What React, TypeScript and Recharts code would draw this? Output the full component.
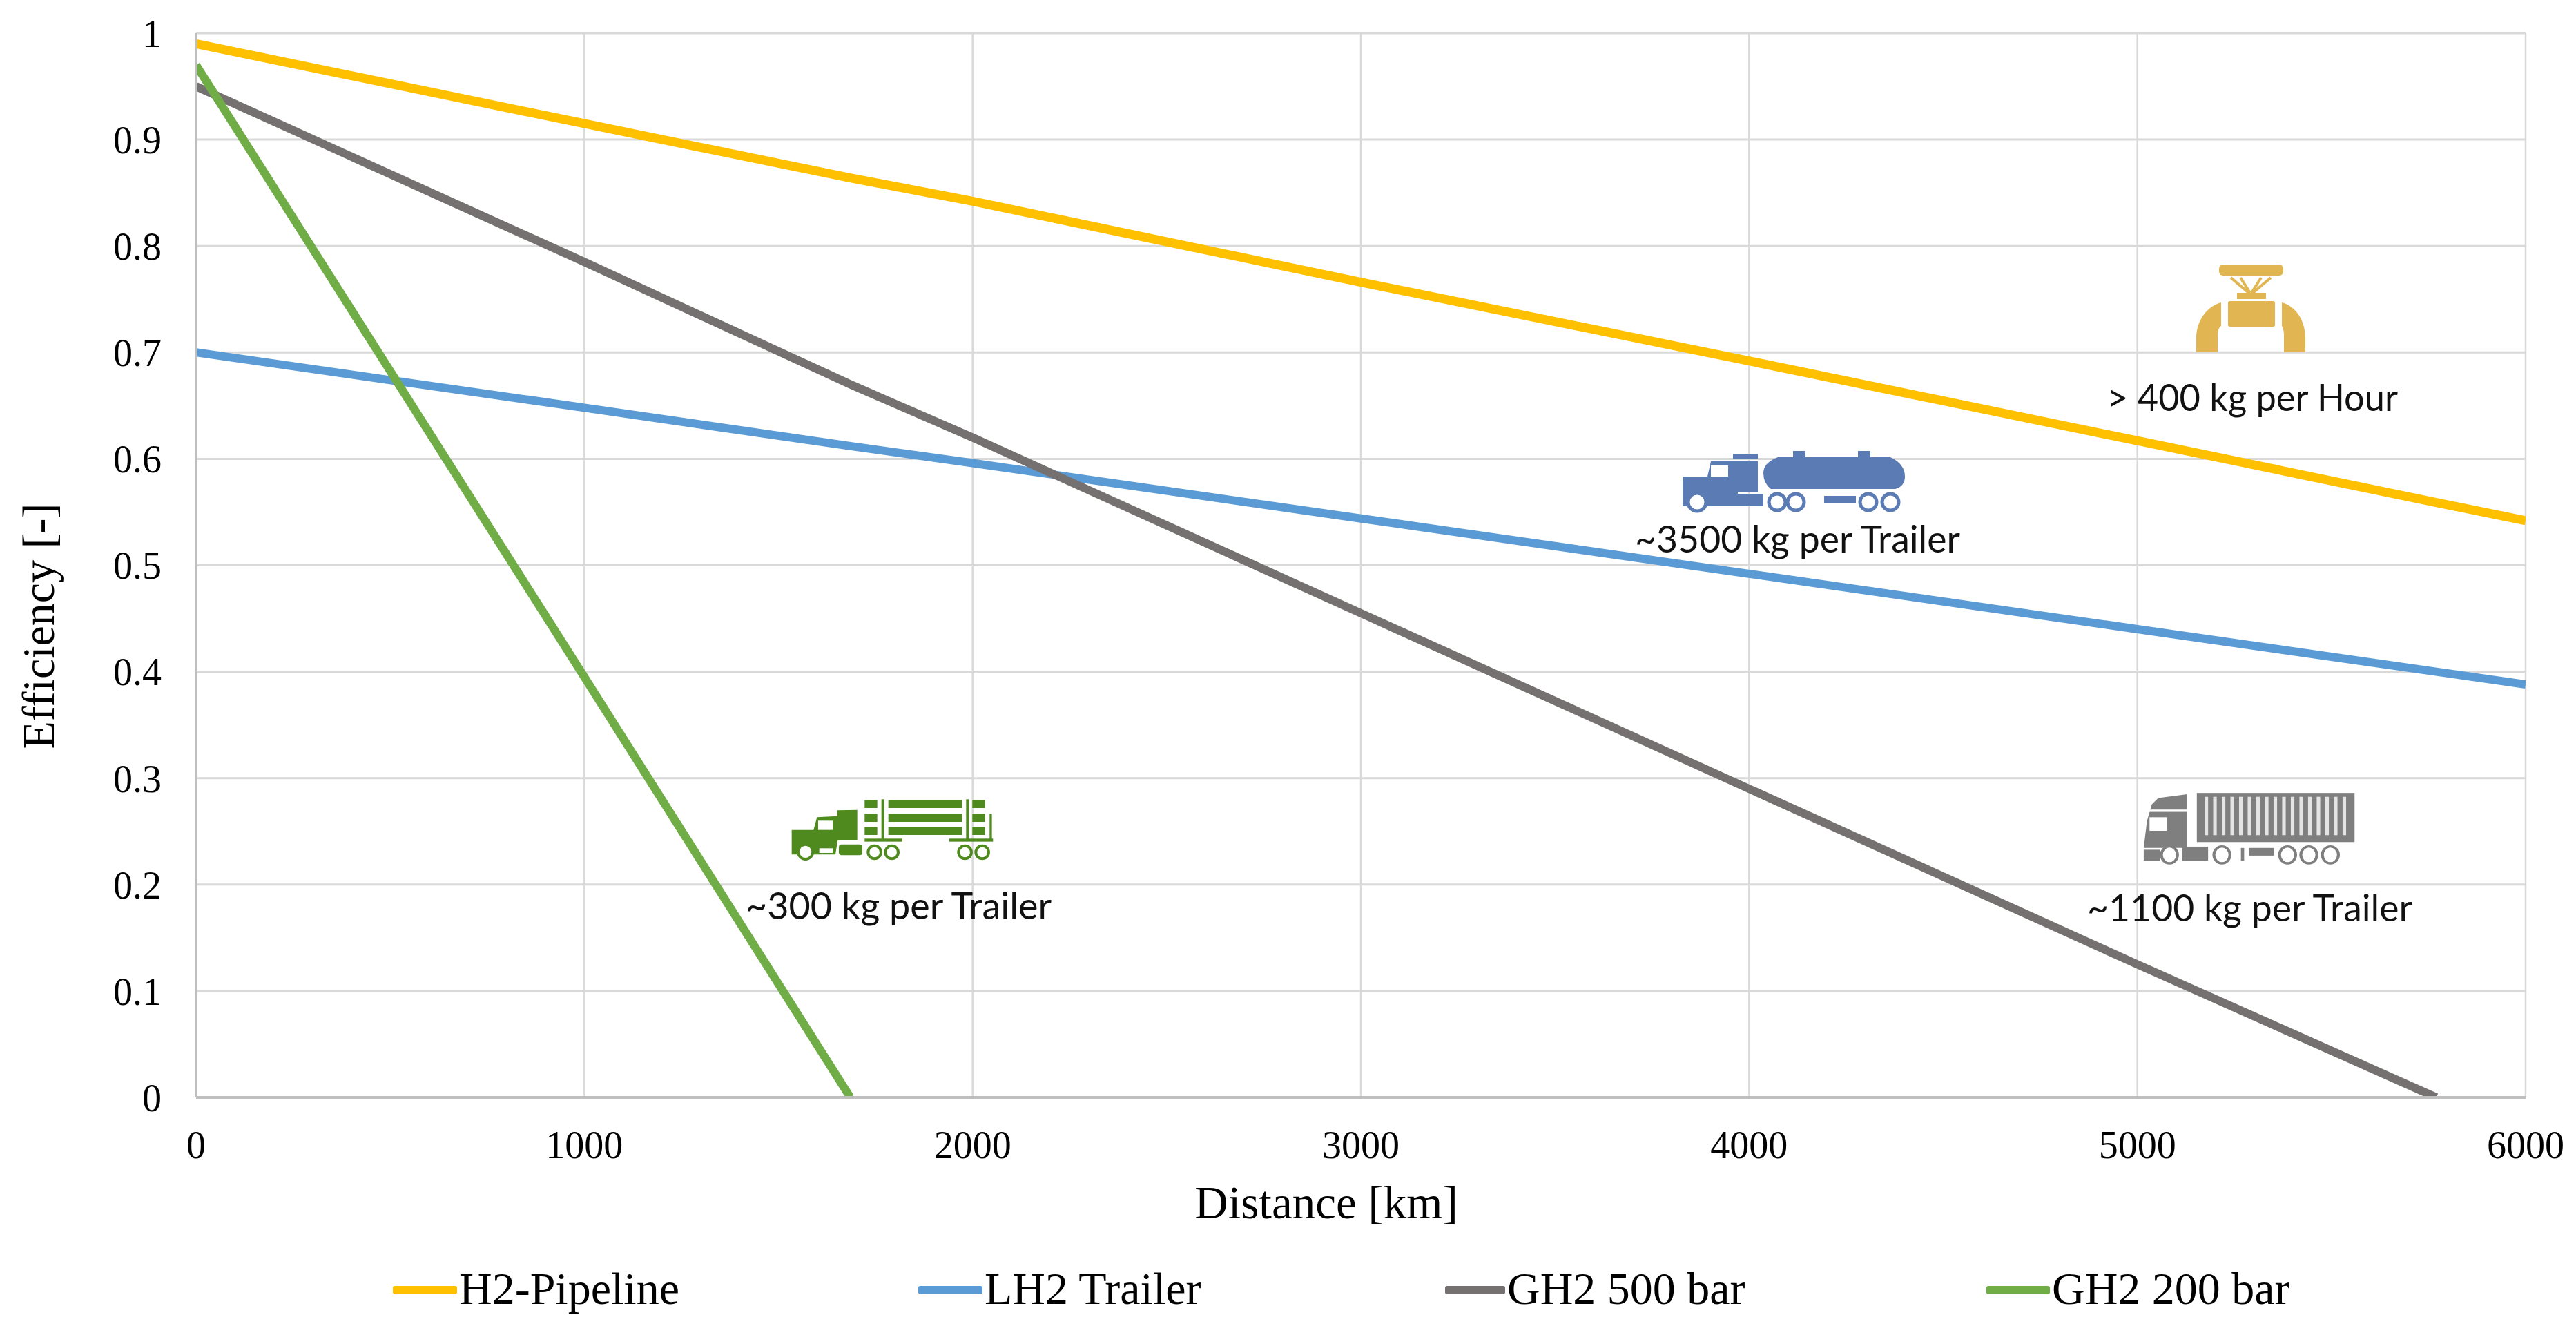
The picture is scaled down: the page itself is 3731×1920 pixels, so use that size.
import { CartesianGrid, Legend, Line, LineChart, XAxis, YAxis } from "recharts";

const WIDTH = 3731;
const HEIGHT = 1920;
const SERIF = '"Liberation Serif", "Times New Roman", serif';
const LABEL_FONT = 'Lato, "Open Sans", sans-serif';

const DISTANCES = [0, 1000, 1685, 2000, 3000, 4000, 5000, 5770, 6000];
const H2_PIPELINE = [0.99, 0.915, 0.864, 0.842, 0.766, 0.692, 0.617, 0.559, 0.542];
const LH2_TRAILER = [0.7, 0.648, 0.612, 0.596, 0.544, 0.492, 0.44, 0.4, 0.388];
const GH2_500 = [0.95, 0.785, 0.67, 0.62, 0.455, 0.29, 0.125, 0, null];
const GH2_200 = [0.97, 0.395, 0, null, null, null, null, null, null];

const X_TICKS = [0, 1000, 2000, 3000, 4000, 5000, 6000];
const Y_TICKS = [0, 0.1, 0.2, 0.3, 0.4, 0.5, 0.6, 0.7, 0.8, 0.9, 1];

const SERIES = [
  { key: "h2", name: "H2-Pipeline", values: H2_PIPELINE, color: "#ffc000", width: 13 },
  { key: "lh2", name: "LH2 Trailer", values: LH2_TRAILER, color: "#5b9bd5", width: 12 },
  { key: "gh500", name: "GH2 500 bar", values: GH2_500, color: "#767171", width: 12 },
  { key: "gh200", name: "GH2 200 bar", values: GH2_200, color: "#70ad47", width: 12 },
];

const rows = DISTANCES.map((distance, i) => {
  const row: Record<string, number | null> = { distance };
  SERIES.forEach((s) => {
    row[s.key] = s.values[i];
  });
  return row;
});

const LEGEND_SLOTS = [
  { x: 569, w: 93 },
  { x: 1330, w: 93 },
  { x: 2093, w: 87 },
  { x: 2877, w: 92 },
];

function ChartLegend({ payload }: any) {
  return (
    <svg width={WIDTH} height={120} style={{ display: "block" }}>
      {(payload || []).map((entry: any, i: number) => {
        const slot = LEGEND_SLOTS[i];
        return (
          <g key={entry.value}>
            <rect x={slot.x} y={62} width={slot.w} height={12} rx={3} fill={entry.color} />
            <text x={slot.x + slot.w + 3} y={88} fontFamily={SERIF} fontSize={66} fill="#000">
              {entry.value}
            </text>
          </g>
        );
      })}
    </svg>
  );
}

function PipeIcon() {
  const c = "#e0b552";
  return (
    <g fill={c}>
      <rect x={3214} y={383} width={93} height={16} rx={6} />
      <path d="M3231 402 L3257 424 M3245 402 L3259 424 M3275 402 L3261 424 M3289 402 L3263 424" stroke={c} strokeWidth={4} fill="none" />
      <rect x={3240} y={424} width={42} height={9} />
      <rect x={3227} y={436} width={68} height={37} rx={3} />
      <path d="M3217 438 C3195 444 3181 466 3181 490 L3181 510 L3212 510 L3212 485 C3212 478 3214 474 3217 472 Z" />
      <path d="M3305 438 C3327 444 3339 466 3339 490 L3339 510 L3308 510 L3308 485 C3308 478 3306 474 3305 472 Z" />
    </g>
  );
}

function Wheel({ cx, cy, r, sw = 5 }: { cx: number; cy: number; r: number; sw?: number }) {
  return <circle cx={cx} cy={cy} r={r} fill="#fff" stroke="currentColor" strokeWidth={sw} />;
}

function TankerIcon() {
  const c = "#5b7bb4";
  return (
    <g fill={c} color={c}>
      <path d="M2437 690 L2473 690 L2478 668 L2546 668 L2546 712 L2517 712 L2517 733 L2437 733 Z" />
      <rect x={2510} y={657} width={36} height={7} />
      <rect x={2478} y={674} width={25} height={16} fill="#fff" />
      <path d="M2575 662 L2738 662 Q2759 672 2759 690 Q2759 704 2745 708 L2565 708 Q2554 700 2554 685 Q2554 670 2575 662 Z" />
      <rect x={2597} y={653} width={18} height={12} />
      <rect x={2691} y={653} width={18} height={12} />
      <rect x={2517} y={715} width={37} height={18} />
      <rect x={2642} y={718} width={46} height={10} />
      <Wheel cx={2458} cy={727} r={13} />
      <Wheel cx={2574} cy={727} r={12} />
      <Wheel cx={2601} cy={727} r={12} />
      <Wheel cx={2706} cy={727} r={12} />
      <Wheel cx={2738} cy={727} r={12} />
    </g>
  );
}

function LogTruckIcon() {
  const c = "#4f8a1f";
  const logRows = [175, 235, 292];
  return (
    <g transform="translate(1050 1100) scale(0.3333)" fill={c} color={c}>
      <path d="M290 305 L385 305 L400 250 L488 245 L488 220 L575 218 L575 350 L490 350 L480 412 L290 412 Z" />
      <rect x={405} y={265} width={63} height={40} fill="#fff" />
      <rect x={410} y={385} width={58} height={20} fill="#fff" />
      {logRows.map((y) => (
        <g key={y}>
          <rect x={607} y={y} width={55} height={35} />
          <rect x={710} y={y} width={320} height={35} />
          <rect x={1075} y={y} width={55} height={35} />
        </g>
      ))}
      <rect x={680} y={172} width={12} height={175} />
      <rect x={1048} y={172} width={12} height={175} />
      <rect x={607} y={343} width={163} height={13} />
      <rect x={975} y={343} width={190} height={13} />
      <rect x={1150} y={235} width={10} height={118} />
      <rect x={495} y={368} width={102} height={47} rx={12} />
      <Wheel cx={350} cy={400} r={32} sw={12} />
      <Wheel cx={650} cy={402} r={28} sw={12} />
      <Wheel cx={725} cy={402} r={28} sw={12} />
      <Wheel cx={1043} cy={402} r={28} sw={12} />
      <Wheel cx={1118} cy={402} r={28} sw={12} />
    </g>
  );
}

const RIB_COLUMNS = [0, 1, 2, 3, 4, 5, 6, 7, 8, 9, 10, 11, 12, 13, 14, 15, 16];

function ContainerTruckIcon() {
  const c = "#7f7f7f";
  const wheels = [305, 468, 672, 738, 805];
  return (
    <g transform="translate(3000 1100) scale(0.4662 0.3704)" fill={c} color={c}>
      <path d="M225 345 L235 240 L250 175 L270 150 L360 135 L360 345 Z" />
      <rect x={240} y={195} width={125} height={9} fill="#fff" />
      <rect x={243} y={225} width={54} height={53} fill="#fff" />
      <rect x={390} y={130} width={490} height={192} />
      {RIB_COLUMNS.map((n) => (
        <rect key={n} x={414 + n * 26.8} y={145} width={11} height={150} fill="#e4e4e4" />
      ))}
      <rect x={225} y={352} width={50} height={43} />
      <rect x={345} y={340} width={80} height={55} />
      <rect x={552} y={345} width={78} height={30} />
      <rect x={527} y={345} width={10} height={50} />
      {wheels.map((cx) => (
        <ellipse key={cx} cx={cx} cy={372} rx={25} ry={33} fill="#fff" stroke={c} strokeWidth={9} />
      ))}
    </g>
  );
}

function Annotations() {
  const textProps = {
    fontFamily: LABEL_FONT,
    fontSize: 54,
    fill: "#111",
    lengthAdjust: "spacingAndGlyphs" as const,
  };
  return (
    <svg
      width={WIDTH}
      height={HEIGHT}
      style={{ position: "absolute", left: 0, top: 0, pointerEvents: "none" }}
    >
      <PipeIcon />
      <TankerIcon />
      <LogTruckIcon />
      <ContainerTruckIcon />
      <text x={3052} y={595} textLength={421} {...textProps}>{"> 400 kg per Hour"}</text>
      <text x={2368} y={800} textLength={471} {...textProps}>~3500 kg per Trailer</text>
      <text x={1080} y={1331} textLength={443} {...textProps}>~300 kg per Trailer</text>
      <text x={3023} y={1334} textLength={471} {...textProps}>~1100 kg per Trailer</text>
    </svg>
  );
}

export default function App() {
  const tickStyle = { fontFamily: SERIF, fontSize: 56, fill: "#000" };
  return (
    <div style={{ position: "absolute", left: 0, top: 0, width: WIDTH, height: HEIGHT, background: "#fff" }}>
      <LineChart
        width={WIDTH}
        height={HEIGHT}
        data={rows}
        margin={{ top: 48, right: 73, bottom: 111, left: 0 }}
      >
        <CartesianGrid vertical={false} stroke="#d9d9d9" strokeWidth={3} />
        <CartesianGrid horizontal={false} stroke="#d9d9d9" strokeWidth={2.5} />
        <XAxis
          dataKey="distance"
          type="number"
          domain={[0, 6000]}
          ticks={X_TICKS}
          allowDataOverflow
          height={100}
          tick={tickStyle}
          tickSize={0}
          tickMargin={48}
          stroke="#bfbfbf"
          strokeWidth={4}
          label={{
            value: "Distance [km]",
            position: "insideBottom",
            offset: -75,
            dx: -50,
            style: { fontFamily: SERIF, fontSize: 67, fill: "#000" },
          }}
        />
        <YAxis
          type="number"
          domain={[0, 1]}
          ticks={Y_TICKS}
          allowDataOverflow
          width={284}
          tick={tickStyle}
          tickSize={0}
          tickMargin={50}
          stroke="#bfbfbf"
          strokeWidth={3}
          label={{
            value: "Efficiency [-]",
            angle: -90,
            position: "insideLeft",
            offset: 55,
            dy: 88,
            style: { fontFamily: SERIF, fontSize: 66, fill: "#000", textAnchor: "middle" },
          }}
        />
        {SERIES.map((s) => (
          <Line
            key={s.key}
            type="linear"
            dataKey={s.key}
            name={s.name}
            stroke={s.color}
            strokeWidth={s.width}
            dot={false}
            activeDot={false}
            connectNulls={false}
            isAnimationActive={false}
          />
        ))}
        <Legend
          verticalAlign="bottom"
          height={120}
          content={ChartLegend}
          itemSorter={null}
          wrapperStyle={{ left: 0, top: 1800, bottom: "auto", width: WIDTH, height: 120 }}
        />
      </LineChart>
      <Annotations />
    </div>
  );
}
